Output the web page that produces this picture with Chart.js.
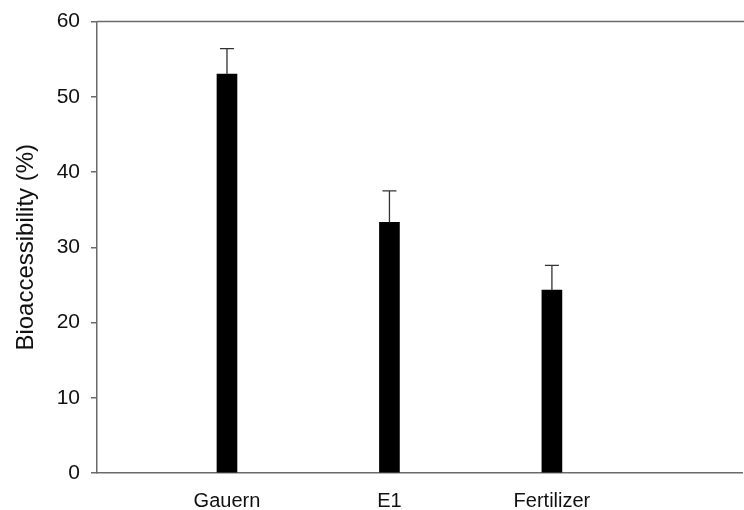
<!DOCTYPE html>
<html>
<head>
<meta charset="utf-8">
<script src="https://cdn.jsdelivr.net/npm/chart.js@4"></script>
<style>
  html, body { margin: 0; padding: 0; background: #fff; }
  #wrap { width: 744px; height: 510px; }
</style>
</head>
<body>
<div id="wrap"><canvas id="myChart" width="744" height="510"></canvas></div>
<script>
// categories and values
const categories = ['Gauern', 'E1', 'Fertilizer'];
const meanValues = [53.0, 33.3, 24.3];
const errorValues = [3.4, 4.2, 3.3];
const yTicks = [0, 10, 20, 30, 40, 50, 60];

const axisColor = '#6a6a6a';
const textColor = '#111';

// draw upward error bars + the top frame line
const errorBarPlugin = {
    id: 'errorBars',
    afterDatasetsDraw(chart) {
        const ctx = chart.ctx;
        const x = chart.scales.x;
        const y = chart.scales.y;
        ctx.save();
        ctx.strokeStyle = '#333';
        ctx.lineWidth = 1.3;
        meanValues.forEach((v, i) => {
            const px = x.getPixelForValue(i + 1);
            const top = y.getPixelForValue(v + errorValues[i]);
            const base = y.getPixelForValue(v);
            ctx.beginPath();
            ctx.moveTo(px, base);
            ctx.lineTo(px, top);
            ctx.moveTo(px - 7, top);
            ctx.lineTo(px + 7, top);
            ctx.stroke();
        });
        // top line of the frame
        const area = chart.chartArea;
        ctx.strokeStyle = axisColor;
        ctx.lineWidth = 1.5;
        ctx.beginPath();
        ctx.moveTo(area.left, area.top);
        ctx.lineTo(chart.width, area.top);
        ctx.stroke();
        ctx.restore();
    }
};

const ctx = document.getElementById('myChart').getContext('2d');
new Chart(ctx, {
    type: 'bar',
    data: {
        datasets: [{
            data: meanValues.map((v, i) => ({ x: i + 1, y: v })),
            backgroundColor: '#000',
            borderWidth: 0,
            barThickness: 20
        }]
    },
    options: {
        responsive: false,
        animation: false,
        layout: { padding: { top: 19, right: 2, left: 0, bottom: 0 } },
        plugins: {
            legend: { display: false },
            tooltip: { enabled: false }
        },
        scales: {
            x: {
                type: 'linear',
                min: 0.2,
                max: 4.17,
                offset: false,
                afterBuildTicks: (axis) => {
                    axis.ticks = categories.map((c, i) => ({ value: i + 1 }));
                },
                afterFit: (scale) => { scale.height = 37; },
                ticks: {
                    color: textColor,
                    font: { family: 'Liberation Sans', size: 20 },
                    padding: 8,
                    callback: (v) => categories[v - 1]
                },
                grid: { display: false, offset: false },
                border: { display: true, color: axisColor, width: 1.5 }
            },
            y: {
                min: 0,
                max: 60,
                afterBuildTicks: (axis) => {
                    axis.ticks = yTicks.map(v => ({ value: v }));
                },
                afterFit: (scale) => { scale.width = 97; },
                ticks: {
                    color: textColor,
                    font: { family: 'Liberation Sans', size: 21, lineHeight: 1 },
                    padding: 11
                },
                grid: {
                    drawOnChartArea: false,
                    drawTicks: true,
                    tickLength: 6,
                    color: axisColor,
                    lineWidth: 1.5
                },
                border: { display: true, color: axisColor, width: 1.5 },
                title: {
                    display: true,
                    text: 'Bioaccessibility (%)',
                    color: textColor,
                    font: { family: 'Liberation Sans', size: 24 },
                    padding: { top: 12, bottom: 0 }
                }
            }
        }
    },
    plugins: [errorBarPlugin]
});
</script>
</body>
</html>
